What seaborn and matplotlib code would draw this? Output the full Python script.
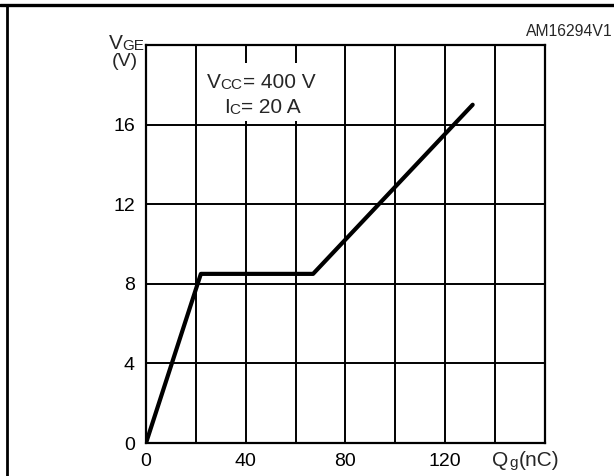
import matplotlib

matplotlib.use('Agg')
import matplotlib.pyplot as plt
import seaborn as sns
import pandas as pd
from matplotlib.lines import Line2D
from matplotlib.patches import Rectangle

# gate charge curve
qg_nc = [0, 22, 67, 131]
vge_v = [0, 8.5, 8.5, 17]

x_ticks = [0, 20, 40, 60, 80, 100, 120, 140, 160]
x_labels = ['0', '', '40', '', '80', '', '120', '', '']
y_ticks = [0, 4, 8, 12, 16, 20]
y_labels = ['0', '4', '8', '12', '16', '']

sns.set_theme(style='white')
plt.rcParams['font.family'] = ['Liberation Sans', 'DejaVu Sans']

df = pd.DataFrame({'Qg': qg_nc, 'VGE': vge_v})

fig = plt.figure(figsize=(6.14, 4.76), dpi=100)
ax = fig.add_axes([0.2378, 0.0693, 0.6498, 0.8361])

sns.lineplot(data=df, x='Qg', y='VGE', ax=ax, color='black', linewidth=3.0,
             sort=False, zorder=5)

ax.set_xlim(0, 160)
ax.set_ylim(0, 20)
ax.set_xticks(x_ticks)
ax.set_xticklabels(x_labels)
ax.set_yticks(y_ticks)
ax.set_yticklabels(y_labels)
ax.tick_params(axis='both', length=0, labelsize=14, colors='black')
ax.tick_params(axis='x', pad=7)
ax.tick_params(axis='y', pad=8)
ax.set_xlabel('')
ax.set_ylabel('')
ax.grid(True, color='black', linewidth=1.4)
for sp in ax.spines.values():
    sp.set_color('black')
    sp.set_linewidth(1.6)

# white box behind the test conditions
ax.add_patch(Rectangle((0.148, 0.81), 0.29, 0.145, transform=ax.transAxes,
                       facecolor='white', edgecolor='none', zorder=3))

t = ax.text(0.152, 0.892, 'V', transform=ax.transAxes, fontsize=15,
            va='baseline', zorder=6)
t = ax.annotate('CC', xy=(1, 0), xycoords=t, va='bottom', fontsize=11, zorder=6)
ax.annotate('= 400 V', xy=(1, 0), xycoords=t, va='bottom', fontsize=15, zorder=6)

t = ax.text(0.195, 0.829, 'I', transform=ax.transAxes, fontsize=15,
            va='baseline', zorder=6)
t = ax.annotate('C', xy=(1, 0), xycoords=t, va='bottom', fontsize=11, zorder=6)
ax.annotate('= 20 A', xy=(1, 0), xycoords=t, va='bottom', fontsize=15, zorder=6)

# axis captions placed like the original sheet
t = fig.text(0.177, 0.897, 'V', fontsize=15, va='baseline')
ax.annotate('GE', xy=(1, 0), xycoords=t, va='bottom', fontsize=11,
            annotation_clip=False)
fig.text(0.204, 0.862, '(V)', fontsize=14, va='baseline', ha='center')

t = fig.text(0.802, 0.02, 'Q', fontsize=15, va='baseline')
t = ax.annotate('g', xy=(1, 0), xycoords=t, xytext=(0.5, 0),
                textcoords='offset points', va='bottom', fontsize=11,
                annotation_clip=False)
ax.annotate('(nC)', xy=(1, 0), xycoords=t, xytext=(0.5, 0),
            textcoords='offset points', va='bottom', fontsize=15,
            annotation_clip=False)

fig.text(0.997, 0.924, 'AM16294V1', fontsize=11.3, ha='right', va='baseline')

# outer frame of the datasheet figure
fig.add_artist(Line2D([0, 1], [0.989, 0.989], transform=fig.transFigure,
                      color='black', linewidth=2.4))
fig.add_artist(Line2D([0.0115, 0.0115], [0, 0.989], transform=fig.transFigure,
                      color='black', linewidth=2.0))

fig.savefig('out.png', dpi=100)
plt.close(fig)
